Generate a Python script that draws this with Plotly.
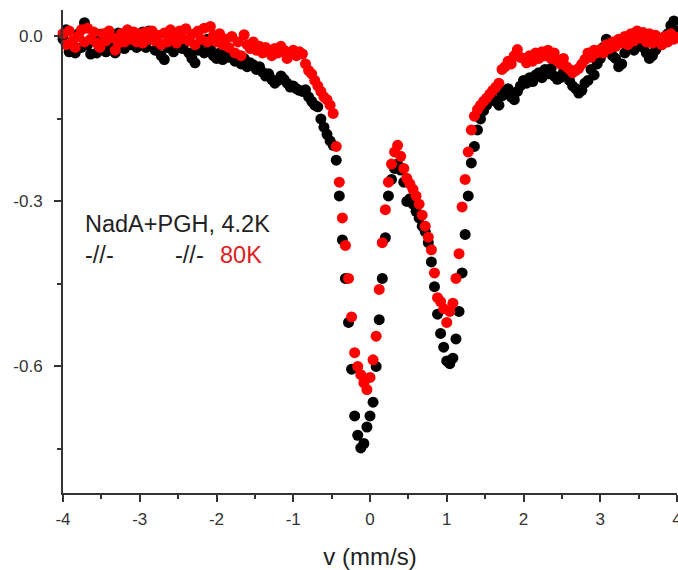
import numpy as np
import plotly.graph_objects as go

# velocity channels (mm/s)
velocity = np.round(np.linspace(-4, 4, 201), 2)

# NadA+PGH, 4.2 K  (relative absorption)
absorb_4k = [
    # -4.00 .. -3.04
    -0.005, 0.012, -0.028, -0.010, -0.030, 0.005, -0.020, 0.025, -0.015, -0.032,
    -0.008, -0.030, 0.004, -0.012, -0.028, 0.000, -0.018, -0.030, 0.006, -0.010,
    -0.022, 0.002, -0.015, -0.005, -0.020,
    # -3.00 .. -2.04
    -0.010, 0.008, -0.020, 0.010, -0.005, -0.025, -0.012, -0.035, -0.042, -0.020,
    -0.008, -0.028, -0.015, 0.000, -0.022, -0.010, -0.030, -0.040, -0.048, -0.025,
    -0.012, -0.030, -0.005, -0.022, -0.035,
    # -2.00 .. -1.04
    -0.040, -0.030, -0.042, -0.025, -0.038, -0.030, -0.045, -0.035, -0.050, -0.040,
    -0.055, -0.048, -0.052, -0.060, -0.055, -0.065, -0.072, -0.068, -0.078, -0.085,
    -0.080, -0.072, -0.078, -0.085, -0.092,
    # -1.00 .. -0.04
    -0.090, -0.095, -0.098, -0.100, -0.097, -0.110, -0.118, -0.125, -0.128, -0.150,
    -0.165, -0.178, -0.190, -0.198, -0.225, -0.290, -0.370, -0.440, -0.520, -0.605,
    -0.690, -0.725, -0.748, -0.740, -0.710,
    # 0.00 .. 0.96
    -0.690, -0.665, -0.600, -0.515, -0.440, -0.366, -0.290, -0.260, -0.240, -0.232,
    -0.243, -0.265, -0.300, -0.295, -0.305, -0.318, -0.330, -0.345, -0.355, -0.375,
    -0.410, -0.455, -0.505, -0.540, -0.565,
    # 1.00 .. 1.96
    -0.590, -0.595, -0.585, -0.550, -0.500, -0.430, -0.360, -0.290, -0.230, -0.200,
    -0.170, -0.150, -0.135, -0.125, -0.110, -0.100, -0.118, -0.125, -0.108, -0.100,
    -0.095, -0.110, -0.115, -0.100, -0.090,
    # 2.00 .. 2.96
    -0.080, -0.085, -0.075, -0.082, -0.070, -0.066, -0.075, -0.060, -0.068, -0.058,
    -0.072, -0.078, -0.075, -0.065, -0.070, -0.080, -0.090, -0.095, -0.103, -0.098,
    -0.085, -0.080, -0.060, -0.070, -0.050,
    # 3.00 .. 4.00
    -0.040, -0.020, -0.005, -0.025, -0.035, -0.040, -0.055, -0.050, -0.030, -0.020,
    -0.012, -0.025, -0.015, -0.008, -0.020, -0.030, -0.040, -0.035, -0.025, -0.010,
    -0.015, -0.005, 0.005, 0.020, 0.028, 0.010,
]

# same sample, 80 K
absorb_80k = [
    # -4.00 .. -3.04
    0.005, -0.015, 0.010, -0.008, -0.020, 0.000, 0.012, -0.010, 0.015, -0.005,
    0.008, -0.012, -0.020, 0.005, -0.008, 0.010, -0.002, -0.025, -0.012, 0.005,
    -0.010, 0.012, -0.005, 0.008, -0.010,
    # -3.00 .. -2.04
    0.005, -0.012, 0.008, -0.005, 0.010, -0.008, 0.002, -0.015, 0.006, -0.010,
    0.012, 0.000, -0.012, 0.010, -0.004, 0.014, -0.008, 0.004, -0.015, 0.010,
    -0.005, 0.015, -0.010, 0.018, 0.002,
    # -2.00 .. -1.04
    -0.010, 0.005, -0.015, -0.005, -0.020, 0.000, -0.030, -0.010, -0.035, 0.003,
    -0.015, -0.022, -0.010, -0.025, -0.018, -0.030, -0.020, -0.028, -0.035, -0.022,
    -0.030, -0.018, -0.025, -0.040, -0.030,
    # -1.00 .. -0.04
    -0.025, -0.035, -0.028, -0.032, -0.050, -0.062, -0.068, -0.080, -0.090, -0.100,
    -0.110, -0.115, -0.125, -0.140, -0.200, -0.265, -0.330, -0.380, -0.440, -0.510,
    -0.575, -0.600, -0.615, -0.630, -0.642,
    # 0.00 .. 0.96
    -0.620, -0.588, -0.545, -0.460, -0.375, -0.315, -0.265, -0.232, -0.210, -0.198,
    -0.218, -0.240, -0.258, -0.268, -0.278, -0.290, -0.305, -0.325, -0.345, -0.365,
    -0.388, -0.430, -0.475, -0.482, -0.495,
    # 1.00 .. 1.96
    -0.520, -0.500, -0.485, -0.440, -0.395, -0.310, -0.260, -0.210, -0.170, -0.145,
    -0.133, -0.125, -0.118, -0.112, -0.105, -0.098, -0.092, -0.085, -0.060, -0.055,
    -0.045, -0.050, -0.035, -0.024, -0.038,
    # 2.00 .. 2.96
    -0.040, -0.048, -0.035, -0.045, -0.030, -0.040, -0.028, -0.035, -0.025, -0.040,
    -0.030, -0.045, -0.050, -0.040, -0.055, -0.060, -0.066, -0.062, -0.058, -0.050,
    -0.042, -0.030, -0.038, -0.025, -0.030,
    # 3.00 .. 4.00
    -0.024, -0.030, -0.015, -0.022, -0.010, -0.018, -0.005, -0.012, 0.000, -0.015,
    0.005, -0.008, 0.010, -0.003, 0.007, -0.010, 0.005, -0.012, 0.002, -0.008,
    -0.015, 0.000, -0.010, 0.005, -0.005, -0.002,
]

y_tickvals = [0.0, -0.3, -0.6]
y_ticktext = ["0.0", "-0.3", "-0.6"]
x_tickvals = [-4, -3, -2, -1, 0, 1, 2, 3, 4]
x_ticktext = ["-4", "-3", "-2", "-1", "0", "1", "2", "3", "4"]

FONT = "Arial, Liberation Sans, sans-serif"
AXIS_COLOR = "#333333"
LABEL_SIZE = 23.5

fig = go.Figure()
fig.add_trace(go.Scatter(x=velocity, y=absorb_4k, mode="markers", name="4.2K",
                         marker=dict(color="black", size=11), cliponaxis=False))
fig.add_trace(go.Scatter(x=velocity, y=absorb_80k, mode="markers", name="80K",
                         marker=dict(color="#ff0000", size=11), cliponaxis=False))

# sample label
fig.add_annotation(x=0.033, y=0.557, xref="paper", yref="paper", xanchor="left",
                   text="NadA+PGH, 4.2K", showarrow=False,
                   font=dict(family=FONT, size=LABEL_SIZE, color="#222222"))
fig.add_annotation(x=0.033, y=0.493, xref="paper", yref="paper", xanchor="left",
                   text="-//-", showarrow=False,
                   font=dict(family=FONT, size=LABEL_SIZE, color="#222222"))
fig.add_annotation(x=0.179, y=0.493, xref="paper", yref="paper", xanchor="left",
                   text="-//-", showarrow=False,
                   font=dict(family=FONT, size=LABEL_SIZE, color="#222222"))
fig.add_annotation(x=0.253, y=0.493, xref="paper", yref="paper", xanchor="left",
                   text="80K", showarrow=False,
                   font=dict(family=FONT, size=LABEL_SIZE, color="#dd1c1c"))

fig.update_xaxes(range=[-4, 4], showline=True, linecolor=AXIS_COLOR, linewidth=2,
                 automargin=False, ticklabeloverflow="allow",
                 ticks="outside", ticklen=7, tickwidth=2, tickcolor=AXIS_COLOR,
                 tickvals=x_tickvals, ticktext=x_ticktext, ticklabelstandoff=3,
                 minor=dict(dtick=0.5, ticks="outside", ticklen=4, tickwidth=2,
                            tickcolor=AXIS_COLOR),
                 showgrid=False, zeroline=False,
                 tickfont=dict(family=FONT, size=17, color="#333333"),
                 title=dict(text="v (mm/s)", standoff=20,
                            font=dict(family=FONT, size=24, color="#222222")))
fig.update_yaxes(range=[-0.83, 0.048], showline=True, linecolor=AXIS_COLOR, linewidth=2,
                 automargin=False,
                 ticks="outside", ticklen=7, tickwidth=2, tickcolor=AXIS_COLOR,
                 tickvals=y_tickvals, ticktext=y_ticktext, ticklabelstandoff=8,
                 minor=dict(tick0=0, dtick=0.15, ticks="outside", ticklen=4,
                            tickwidth=2, tickcolor=AXIS_COLOR),
                 showgrid=False, zeroline=False,
                 tickfont=dict(family=FONT, size=17, color="#333333"))

fig.update_layout(width=678, height=570, showlegend=False,
                  margin=dict(l=63, r=1, t=10, b=77),
                  paper_bgcolor="white", plot_bgcolor="white")

# drop the default 8px body margin so the figure fills the window exactly
fig.write_html("out.html", config={"displayModeBar": False},
               post_script="document.body.style.margin = '0';")
